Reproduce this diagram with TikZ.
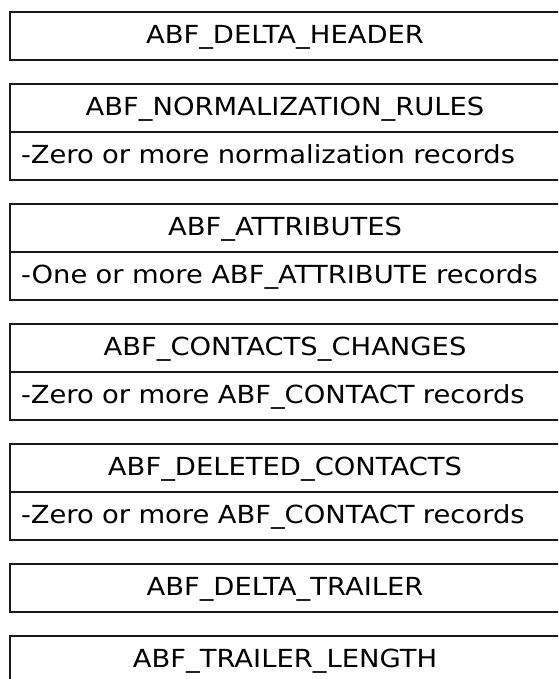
\documentclass[tikz,border=0pt]{standalone}
\usepackage{fontspec}
\setmainfont{DejaVu Sans}[FakeStretch=1.1]
\begin{document}
\begin{tikzpicture}[x=1pt,y=-1pt,
  title/.style={draw=black!90,line width=2.2pt,minimum width=550pt,minimum height=48pt,
    inner sep=0pt,text height=19pt,text depth=4.5pt,font=\fontsize{24.9pt}{28pt}\selectfont},
  rec/.style={title,text width=528pt,align=left,inner xsep=11pt}]
\useasboundingbox (0,0) rectangle (558,679);
\clip (0,0) rectangle (558,679);
\node[title] (h1) at (285,36) {ABF\_DELTA\_HEADER};
\node[title] (h2) at (285,108) {ABF\_NORMALIZATION\_RULES};
\node[rec] (r2) at (285,156) {-Zero or more normalization records};
\node[title] (h3) at (285,228) {ABF\_ATTRIBUTES};
\node[rec] (r3) at (285,276) {-One or more ABF\_ATTRIBUTE records};
\node[title] (h4) at (285,348) {ABF\_CONTACTS\_CHANGES};
\node[rec] (r4) at (285,396) {-Zero or more ABF\_CONTACT records};
\node[title] (h5) at (285,468) {ABF\_DELETED\_CONTACTS};
\node[rec] (r5) at (285,516) {-Zero or more ABF\_CONTACT records};
\node[title] (h6) at (285,588) {ABF\_DELTA\_TRAILER};
\node[title] (h7) at (285,660) {ABF\_TRAILER\_LENGTH};
\end{tikzpicture}
\end{document}
